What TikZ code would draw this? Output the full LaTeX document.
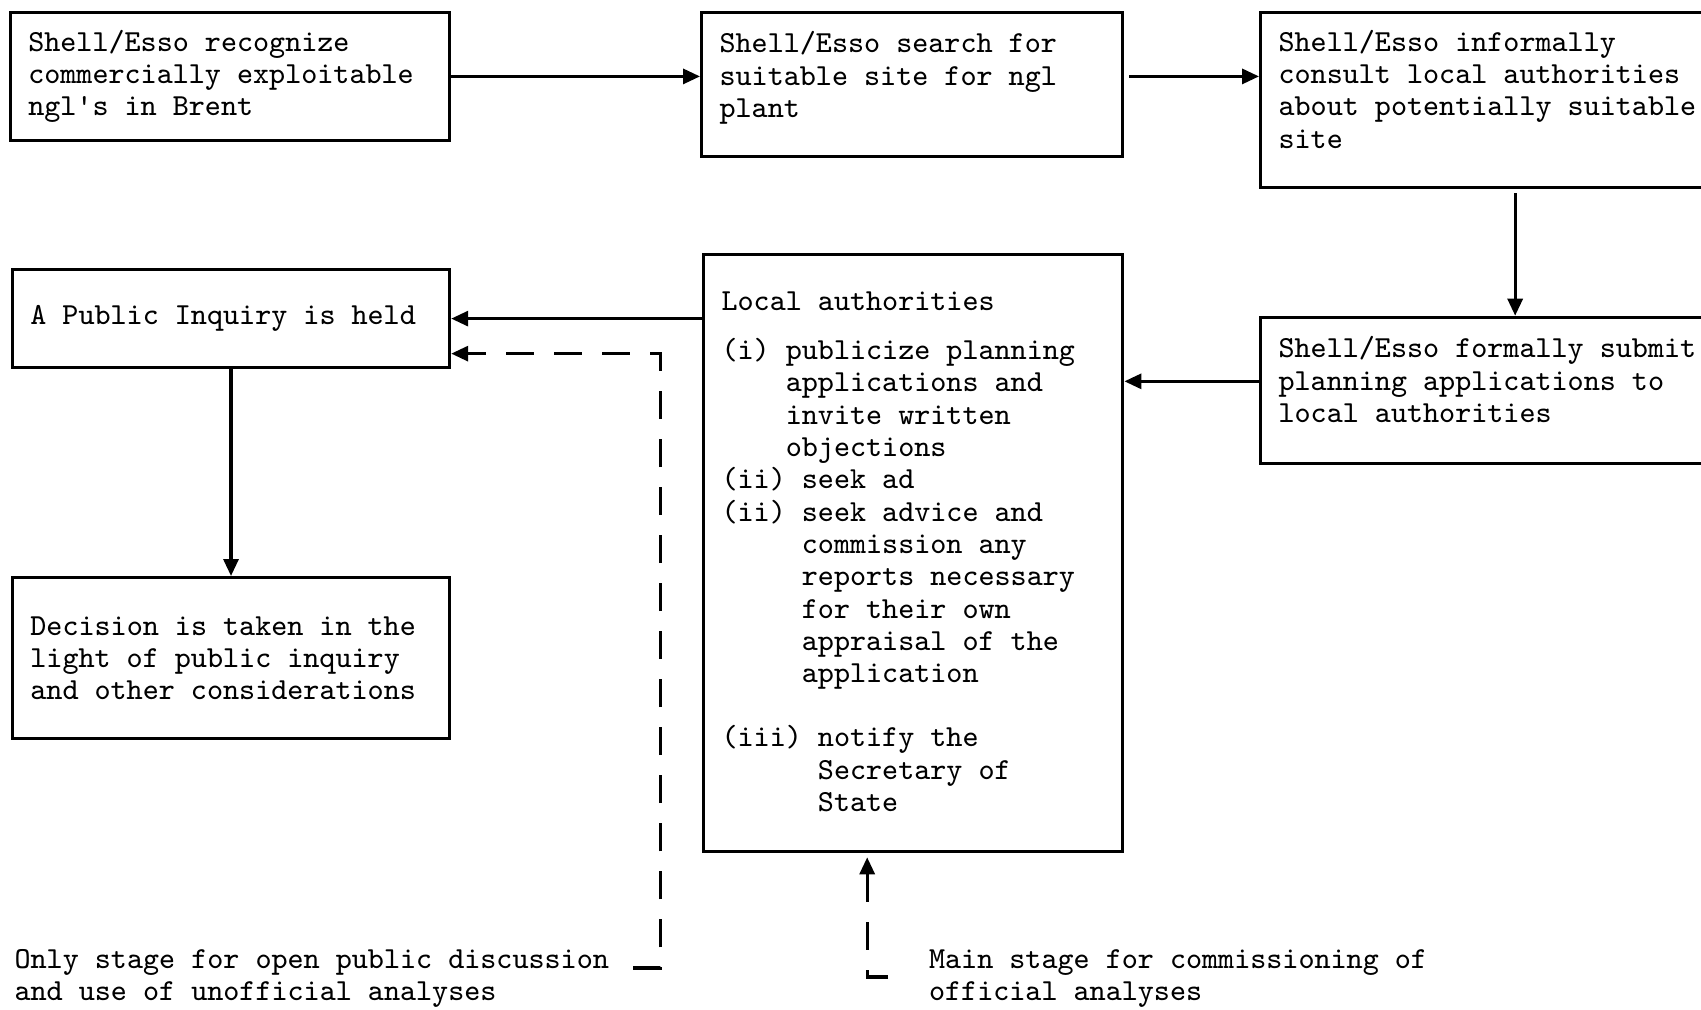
\documentclass[tikz,border=0pt]{standalone}
\usepackage{tikz}
\usetikzlibrary{arrows.meta}

\begin{document}
\begin{tikzpicture}[x=0.01cm, y=-0.01cm, line width=0.9pt,
    box/.style={draw, anchor=north west, align=left, inner xsep=0.18cm, inner ysep=0pt,
      font=\ttfamily\fontsize{8.7pt}{9.19pt}\selectfont,
      execute at begin node={\spaceskip=0.525em\relax\xspaceskip=0.525em\relax}},
    note/.style={anchor=west, align=left, inner sep=0pt,
      font=\ttfamily\fontsize{8.7pt}{9.19pt}\selectfont},
    arr/.style={-{Triangle[length=0.17cm, width=0.15cm]}},
    dasharr/.style={arr, dash pattern=on 0.28cm off 0.2cm}]
    \useasboundingbox (0,0) rectangle (1701,1009);

    % top row
    \node[box, text width=4.03cm, minimum height=1.28cm] (recog) at (8.7,10.8) {Shell/Esso recognize\\commercially exploitable\\ngl\textquotesingle s in Brent};
    \node[box, text width=3.85cm, minimum height=1.44cm] (search) at (700,10.8) {Shell/Esso search for\\suitable site for ngl\\plant\\[-0.123cm]\mbox{}};
    \node[box, text width=4.24cm, minimum height=1.75cm] (consult) at (1259,10.8) {Shell/Esso informally\\consult local authorities\\about potentially suitable\\site\\[-0.106cm]\mbox{}};

    % middle row
    \node[box, text width=4.01cm, minimum height=0.98cm] (inquiry) at (10.8,268) {A Public Inquiry is held};
    \node[box, text width=3.83cm, minimum height=5.97cm] (local) at (702,252.8) {Local authorities\\[0.166cm]
      (i) publicize planning\\
      \phantom{(i) }applications and\\
      \phantom{(i) }invite written\\
      \phantom{(i) }objections\\
      (ii) seek ad\\
      (ii) seek advice and\\
      \phantom{(ii) }commission any\\
      \phantom{(ii) }reports necessary\\
      \phantom{(ii) }for their own\\
      \phantom{(ii) }appraisal of the\\
      \phantom{(ii) }application\\[0.318cm]
      (iii) notify the\\
      \phantom{(iii) }Secretary of\\
      \phantom{(iii) }State};
    \node[box, text width=4.24cm, minimum height=1.46cm] (submit) at (1259,315.7) {Shell/Esso formally submit\\planning applications to\\local authorities\\[-0.106cm]\mbox{}};

    % bottom
    \node[box, text width=4.01cm, minimum height=1.61cm] (decision) at (10.8,576) {Decision is taken in the\\light of public inquiry\\and other considerations};
    \node[note] (openlabel) at (13,978.5) {Only stage for open public discussion\\and use of unofficial analyses};
    \node[note] (mainlabel) at (927.5,978.5) {Main stage for commissioning of\\official analyses};
    \coordinate (openend) at (633,968);
    \coordinate (officialend) at (888,977);

    % connectors
    \draw[arr] (recog.east) -- (recog.east -| search.west);
    \draw[arr, shorten <=0.05cm] (search.east |- recog.east) -- (recog.east -| consult.west);
    \draw[arr, shorten <=0.04cm] ([xshift=2.56cm]consult.south west) -- ([xshift=2.56cm]submit.north west);
    \path ([yshift=0.09cm]submit.west) coordinate (subarr);
    \draw[arr] (subarr) -- (subarr -| local.east);
    \draw[arr] (local.west |- inquiry.east) -- (inquiry.east);
    \draw[arr] (inquiry.south) -- (decision.north);
    \path ([yshift=-0.35cm]inquiry.east) coordinate (openin);
    \draw[dasharr] (openend) -| ([xshift=2.09cm]openin) -- (openin);
    \draw[dasharr, shorten >=0.04cm] (officialend) -| ([xshift=-0.46cm]local.south);
\end{tikzpicture}
\end{document}
